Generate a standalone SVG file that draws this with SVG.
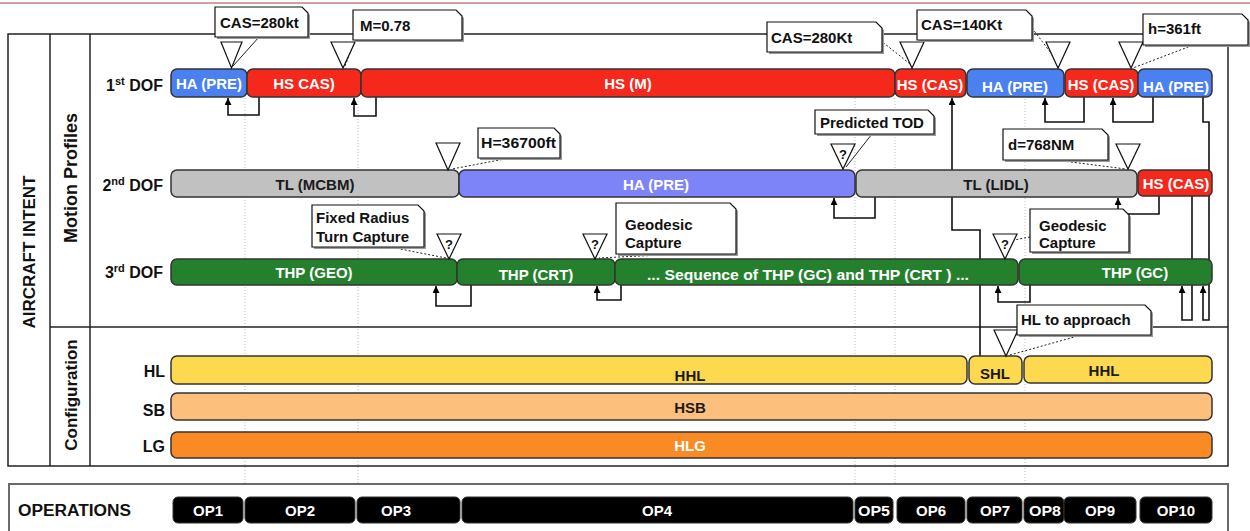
<svg xmlns="http://www.w3.org/2000/svg" width="1250" height="531" viewBox="0 0 1250 531">
<defs>
<marker id="ah" viewBox="0 0 10 10" refX="10" refY="5" markerWidth="7" markerHeight="7" orient="auto" markerUnits="userSpaceOnUse"><path d="M0,0 L10,5 L0,10 z" fill="#000"/></marker>
</defs>
<style>
text{font-family:"Liberation Sans",Arial,Helvetica,sans-serif;font-weight:bold}
.bar{stroke:#333;stroke-width:1.5}
.bl{font-size:15px;text-anchor:middle}
.w{fill:#fff}
.d{fill:#1a1a1a}
.blue{fill:#4a80ef}
.red{fill:#f5281c}
.peri{fill:#7d84f8}
.gray{fill:#c1c1c1}
.green{fill:#25802e}
.yel{fill:#fcd94e}
.lor{fill:#fdc07c}
.ora{fill:#f98a24}
.co{fill:#fff;stroke:#111;stroke-width:1.2}
.sh{fill:#9a9a9a}
.tri{fill:#fff;stroke:#111;stroke-width:1.2}
.ct{font-size:15px;fill:#111}
.q{font-size:13px;fill:#111;text-anchor:middle}
.conn{fill:none;stroke:#111;stroke-width:1.6}
.dot{fill:none;stroke:#222;stroke-width:1;stroke-dasharray:2,2}
.sol{fill:none;stroke:#222;stroke-width:1}
.grid{stroke:#bdbdbd;stroke-width:1;stroke-dasharray:1,2}
.frame{fill:none;stroke:#222;stroke-width:1.5}
.rl{font-size:16px;fill:#111;text-anchor:end}
.op{fill:#000;stroke:#333;stroke-width:1}
.opt{font-size:15px;fill:#fff;text-anchor:middle}
</style>

<line x1="0" y1="3" x2="1250" y2="3" stroke="#a3404c" stroke-width="1.2"/>

<g id="grid">
<line class="grid" x1="245" y1="98" x2="245" y2="531"/>
<line class="grid" x1="358" y1="98" x2="358" y2="531"/>
<line class="grid" x1="855" y1="98" x2="855" y2="531"/>
<line class="grid" x1="895" y1="98" x2="895" y2="531"/>
<line class="grid" x1="1025" y1="72" x2="1025" y2="531"/>
</g>

<g id="frame">
<rect class="frame" x="8" y="34" width="1220" height="432"/>
<line class="frame" x1="50" y1="34" x2="50" y2="466"/>
<line class="frame" x1="90" y1="34" x2="90" y2="466"/>
<line class="frame" x1="50" y1="327" x2="1228" y2="327"/>
<text x="0" y="0" font-size="17" fill="#111" text-anchor="middle" transform="translate(35,252) rotate(-90)">AIRCRAFT INTENT</text>
<text x="0" y="0" font-size="18" fill="#111" text-anchor="middle" transform="translate(77,178) rotate(-90)">Motion Profiles</text>
<text x="0" y="0" font-size="17" fill="#111" text-anchor="middle" transform="translate(77,395) rotate(-90)">Configuration</text>
</g>

<g id="row-labels">
<text class="rl" x="163" y="91">1<tspan font-size="11" dy="-6">st</tspan><tspan dy="6"> DOF</tspan></text>
<text class="rl" x="163" y="191">2<tspan font-size="11" dy="-6">nd</tspan><tspan dy="6"> DOF</tspan></text>
<text class="rl" x="163" y="278">3<tspan font-size="11" dy="-6">rd</tspan><tspan dy="6"> DOF</tspan></text>
<text class="rl" x="165" y="377">HL</text>
<text class="rl" x="165" y="416">SB</text>
<text class="rl" x="165" y="452">LG</text>
</g>

<g id="connectors">
<path class="conn" marker-end="url(#ah)" d="M259,97 V115 H228 V98"/>
<path class="conn" marker-end="url(#ah)" d="M376,97 V116 H354 V98"/>
<path class="conn" marker-end="url(#ah)" d="M980,356 V230 H952 V98"/>
<path class="conn" marker-end="url(#ah)" d="M1084,97 V122 H1045 V98"/>
<path class="conn" marker-end="url(#ah)" d="M1153,97 V122 H1113 V98"/>
<path class="conn" marker-end="url(#ah)" d="M1203,97 V122 H1209 V320 H1203 V286"/>
<path class="conn" marker-end="url(#ah)" d="M1192,196 V320 H1182 V286"/>
<path class="conn" marker-end="url(#ah)" d="M875,197 V218 H834 V198"/>
<path class="conn" marker-end="url(#ah)" d="M1159,195 V214 H1118 V198"/>
<path class="conn" marker-end="url(#ah)" d="M471,285 V306 H436 V286"/>
<path class="conn" marker-end="url(#ah)" d="M621,285 V300 H597 V286"/>
<path class="conn" marker-end="url(#ah)" d="M1030,285 V302 H998 V286"/>
</g>

<g id="dof1">
<rect class="bar blue" x="171" y="69" width="76" height="28" rx="6"/>
<rect class="bar red" x="247" y="69" width="114" height="28" rx="6"/>
<rect class="bar red" x="361" y="69" width="534" height="28" rx="6"/>
<rect class="bar red" x="895" y="69" width="71" height="28" rx="6"/>
<rect class="bar blue" x="967" y="69" width="97" height="28" rx="6"/>
<rect class="bar red" x="1065" y="69" width="73" height="28" rx="6"/>
<rect class="bar blue" x="1138" y="69" width="74" height="28" rx="6"/>
<text class="bl w" x="209" y="89">HA (PRE)</text>
<text class="bl w" x="304" y="89">HS CAS)</text>
<text class="bl w" x="628" y="89">HS (M)</text>
<text class="bl w" x="930" y="90">HS (CAS)</text>
<text class="bl w" x="1015" y="92">HA (PRE)</text>
<text class="bl w" x="1101" y="90">HS (CAS)</text>
<text class="bl w" x="1176" y="92">HA (PRE)</text>
</g>

<g id="dof2">
<rect class="bar gray" x="171" y="170" width="288" height="27" rx="6"/>
<rect class="bar peri" x="459" y="170" width="396" height="27" rx="6"/>
<rect class="bar gray" x="856" y="170" width="281" height="27" rx="6"/>
<rect class="bar red" x="1138" y="170" width="74" height="26" rx="5"/>
<text class="bl d" x="315" y="190">TL (MCBM)</text>
<text class="bl w" x="656" y="190">HA (PRE)</text>
<text class="bl d" x="996" y="190">TL (LIDL)</text>
<text class="bl w" x="1176" y="189">HS (CAS)</text>
</g>

<g id="dof3">
<rect class="bar green" x="171" y="259" width="286" height="26" rx="6"/>
<rect class="bar green" x="457" y="259" width="158" height="26" rx="6"/>
<rect class="bar green" x="615" y="259" width="403" height="26" rx="6"/>
<rect class="bar green" x="1019" y="259" width="193" height="26" rx="6"/>
<text class="bl w" x="314" y="278">THP (GEO)</text>
<text class="bl w" x="536" y="280">THP (CRT)</text>
<text class="bl w" x="808" y="280" textLength="322" lengthAdjust="spacingAndGlyphs">... Sequence of THP (GC) and THP (CRT ) ...</text>
<text class="bl w" x="1135" y="278">THP (GC)</text>
</g>

<g id="hl">
<rect class="bar yel" x="171" y="356" width="796" height="28" rx="6"/>
<rect class="bar yel" x="969" y="356" width="53" height="28" rx="6"/>
<rect class="bar yel" x="1024" y="356" width="188" height="27" rx="6"/>
<text class="bl d" x="690" y="381">HHL</text>
<text class="bl d" x="995" y="379">SHL</text>
<text class="bl d" x="1104" y="376">HHL</text>
</g>
<g id="sb">
<rect class="bar lor" x="171" y="393" width="1041" height="27" rx="6"/>
<text class="bl d" x="690" y="413">HSB</text>
</g>
<g id="lg">
<rect class="bar ora" x="171" y="432" width="1041" height="26" rx="6"/>
<text class="bl w" x="690" y="451">HLG</text>
</g>

<g id="callout-cas280a">
<path class="sol" d="M259,37 L233,66"/>
<polygon class="tri" points="221,42 242,42 231.5,68"/>
<path class="sh" d="M217,9 H304 L310,15 V39 H217 Z"/>
<path class="co" d="M215,7 H302 L308,13 V37 H215 Z"/>
<text class="ct" x="220" y="28">CAS=280kt</text>
</g>
<g id="callout-m078">
<path class="dot" d="M356,38 L345,66"/>
<polygon class="tri" points="331,42 355,42 343,68"/>
<path class="sh" d="M355,12 H458 L464,18 V42 H355 Z"/>
<path class="co" d="M353,10 H456 L462,16 V40 H353 Z"/>
<text class="ct" x="360" y="31">M=0.78</text>
</g>
<g id="callout-cas280b">
<path class="dot" d="M880,40 L910,64"/>
<polygon class="tri" points="900,42 924,42 912,68"/>
<path class="sh" d="M769,24 H878 L884,30 V54 H769 Z"/>
<path class="co" d="M767,22 H876 L882,28 V52 H767 Z"/>
<text class="ct" x="771" y="43">CAS=280Kt</text>
</g>
<g id="callout-cas140">
<path class="dot" d="M1032,28 L1060,65"/>
<polygon class="tri" points="1046,42 1070,42 1058,68"/>
<path class="sh" d="M919,12 H1028 L1034,18 V42 H919 Z"/>
<path class="co" d="M917,10 H1026 L1032,16 V40 H917 Z"/>
<text class="ct" x="921" y="30">CAS=140Kt</text>
</g>
<g id="callout-h361">
<path class="dot" d="M1196,44 L1133,68"/>
<polygon class="tri" points="1119,42 1143,42 1131,68"/>
<path class="sh" d="M1145,16 H1244 L1250,22 V47 H1145 Z"/>
<path class="co" d="M1143,14 H1242 L1248,20 V45 H1143 Z"/>
<text class="ct" x="1148" y="34">h=361ft</text>
</g>
<g id="callout-h36700">
<path class="dot" d="M510,158 L452,169"/>
<polygon class="tri" points="436,143 460,143 448,170"/>
<path class="sh" d="M480,130 H556 L562,136 V160 H480 Z"/>
<path class="co" d="M478,128 H554 L560,134 V158 H478 Z"/>
<text class="ct" x="481" y="148" textLength="75" lengthAdjust="spacingAndGlyphs">H=36700ft</text>
</g>
<g id="callout-tod">
<path class="sol" d="M872,134 L846,167"/>
<polygon class="tri" points="831,144 855,144 843,169"/>
<text class="q" x="843" y="159">?</text>
<path class="sh" d="M817,112 H930 L936,118 V136 H817 Z"/>
<path class="co" d="M815,110 H928 L934,116 V134 H815 Z"/>
<text class="ct" x="820" y="128">Predicted TOD</text>
</g>
<g id="callout-d768">
<path class="dot" d="M1055,160 L1126,169"/>
<polygon class="tri" points="1116,144 1140,144 1128,169"/>
<path class="sh" d="M1005,131 H1104 L1110,137 V162 H1005 Z"/>
<path class="co" d="M1003,129 H1102 L1108,135 V160 H1003 Z"/>
<text class="ct" x="1008" y="150">d=768NM</text>
</g>
<g id="callout-frtc">
<path class="dot" d="M385,246 L446,258"/>
<polygon class="tri" points="437,234 461,234 449,259"/>
<text class="q" x="449" y="249">?</text>
<path class="sh" d="M314,207 H420 L426,213 V249 H314 Z"/>
<path class="co" d="M312,205 H418 L424,211 V247 H312 Z"/>
<text class="ct" x="316" y="223">Fixed Radius</text>
<text class="ct" x="316" y="242">Turn Capture</text>
</g>
<g id="callout-geo1">
<path class="dot" d="M680,254 L599,258"/>
<polygon class="tri" points="583,234 607,234 595,259"/>
<text class="q" x="595" y="249">?</text>
<path class="sh" d="M618,205 H732 L738,211 V256 H618 Z"/>
<path class="co" d="M616,203 H730 L736,209 V254 H616 Z"/>
<text class="ct" x="625" y="230">Geodesic</text>
<text class="ct" x="625" y="248">Capture</text>
</g>
<g id="callout-geo2">
<path class="dot" d="M1030,237 L1014,240"/>
<polygon class="tri" points="993,234 1017,234 1005,259"/>
<text class="q" x="1005" y="249">?</text>
<path class="sh" d="M1032,211 H1125 L1131,217 V254 H1032 Z"/>
<path class="co" d="M1030,209 H1123 L1129,215 V252 H1030 Z"/>
<text class="ct" x="1039" y="231">Geodesic</text>
<text class="ct" x="1039" y="248">Capture</text>
</g>
<g id="callout-hl">
<path class="dot" d="M1085,334 L1010,355"/>
<polygon class="tri" points="994,330 1018,330 1006,356"/>
<path class="sh" d="M1019,307 H1147 L1153,313 V337 H1019 Z"/>
<path class="co" d="M1017,305 H1145 L1151,311 V335 H1017 Z"/>
<text class="ct" x="1021" y="325">HL to approach</text>
</g>

<g id="operations">
<rect x="9" y="484" width="1219" height="60" fill="#fff" stroke="#6a6a6a" stroke-width="2"/>
<text x="18" y="516" font-size="16" fill="#111" textLength="113" lengthAdjust="spacingAndGlyphs">OPERATIONS</text>
<rect class="op" x="173" y="497" width="70" height="26" rx="5"/>
<rect class="op" x="245" y="497" width="110" height="26" rx="5"/>
<rect class="op" x="357" y="497" width="103" height="26" rx="5" stroke="#777"/>
<rect class="op" x="462" y="497" width="391" height="26" rx="5"/>
<rect class="op" x="855" y="497" width="38" height="26" rx="5"/>
<rect class="op" x="897" y="497" width="68" height="26" rx="5"/>
<rect class="op" x="967" y="497" width="55" height="26" rx="5"/>
<rect class="op" x="1024" y="497" width="40" height="26" rx="5" stroke="#888"/>
<rect class="op" x="1064" y="497" width="72" height="26" rx="5"/>
<rect class="op" x="1140" y="497" width="72" height="26" rx="5"/>
<text class="opt" x="208" y="516">OP1</text>
<text class="opt" x="300" y="516">OP2</text>
<text class="opt" x="396" y="516">OP3</text>
<text class="opt" x="657" y="516">OP4</text>
<text class="opt" x="874" y="516" textLength="32" lengthAdjust="spacingAndGlyphs">OP5</text>
<text class="opt" x="931" y="516">OP6</text>
<text class="opt" x="995" y="516">OP7</text>
<text class="opt" x="1045" y="516" textLength="32" lengthAdjust="spacingAndGlyphs">OP8</text>
<text class="opt" x="1100" y="516">OP9</text>
<text class="opt" x="1176" y="516">OP10</text>
</g>
</svg>
